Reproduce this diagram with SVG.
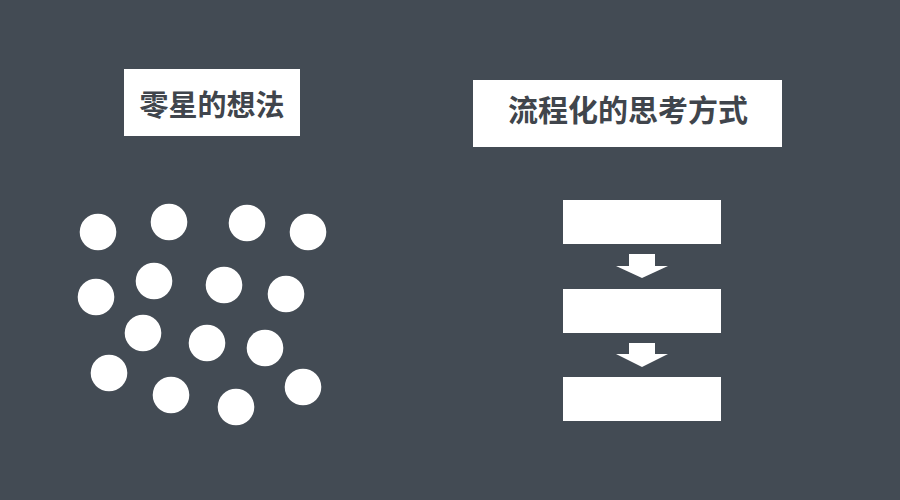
<svg xmlns="http://www.w3.org/2000/svg" width="900" height="500" viewBox="0 0 900 500">
<style>
.title{fill:#ffffff}
.tt{font-family:"Noto Sans CJK SC","Noto Sans",sans-serif;font-weight:bold;font-size:29px;fill:#40454c;text-anchor:middle;dominant-baseline:central}
.dot{fill:#ffffff}
.step{fill:#ffffff}
.arrow{fill:#ffffff}
</style>
<rect width="900" height="500" fill="#434b54"/>
<g id="title-left">
<rect class="title" x="124" y="69" width="176" height="67"/>
<text class="tt" x="212" y="103">零星的想法</text>
</g>
<g id="title-right">
<rect class="title" x="473" y="80" width="309" height="67"/>
<text class="tt" x="628" y="108" style="font-size:30px">流程化的思考方式</text>
</g>
<g id="dots">
<circle class="dot" cx="98" cy="232" r="18.3"/>
<circle class="dot" cx="169" cy="222" r="18.3"/>
<circle class="dot" cx="247" cy="223" r="18.3"/>
<circle class="dot" cx="308" cy="232" r="18.3"/>
<circle class="dot" cx="96" cy="297" r="18.3"/>
<circle class="dot" cx="154" cy="281" r="18.3"/>
<circle class="dot" cx="224" cy="285" r="18.3"/>
<circle class="dot" cx="286" cy="294" r="18.3"/>
<circle class="dot" cx="143" cy="333" r="18.3"/>
<circle class="dot" cx="207" cy="343" r="18.3"/>
<circle class="dot" cx="265" cy="348" r="18.3"/>
<circle class="dot" cx="109" cy="373" r="18.3"/>
<circle class="dot" cx="171" cy="395" r="18.3"/>
<circle class="dot" cx="236" cy="407" r="18.3"/>
<circle class="dot" cx="303" cy="387" r="18.3"/>
</g>
<g id="step1"><rect class="step" x="563" y="200" width="158" height="44"/></g>
<g id="step2"><rect class="step" x="563" y="289" width="158" height="44"/></g>
<g id="step3"><rect class="step" x="563" y="377" width="158" height="44"/></g>
<g id="connectors">
<polygon class="arrow" points="629,254 655,254 655,266 668,266 642,278 616,266 629,266"/>
<polygon class="arrow" points="629,343 655,343 655,354 668,354 642,367 616,354 629,354"/>
</g>
</svg>
